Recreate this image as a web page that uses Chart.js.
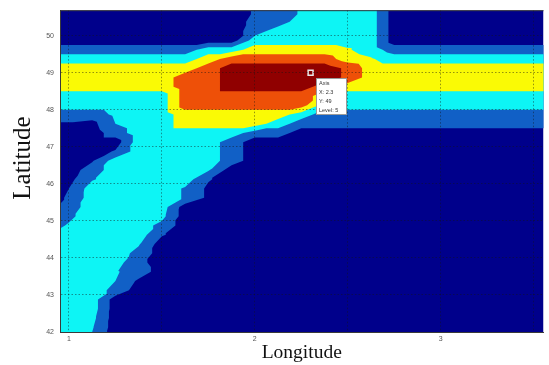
<!DOCTYPE html>
<html>
<head>
<meta charset="utf-8">
<script src="https://cdn.jsdelivr.net/npm/chart.js@4/dist/chart.umd.min.js"></script>
<style>
  html, body { margin: 0; padding: 0; background: #fff; overflow: hidden; }
  canvas { display: block; }
</style>
</head>
<body>
<canvas id="chart" width="549" height="365"></canvas>
<script>
// Longitude / latitude of the gridded field
const lonGrid = [0.875, 1.0, 1.125, 1.25, 1.375, 1.5, 1.625, 1.75, 1.875, 2.0, 2.125, 2.25,
                 2.375, 2.5, 2.625, 2.75, 2.875, 3.0, 3.125, 3.25, 3.375, 3.5, 3.625];
const latGrid = [50.875, 50.625, 50.375, 50.125, 49.875, 49.625, 49.375, 49.125, 48.875, 48.625,
                 48.375, 48.125, 47.875, 47.625, 47.375, 47.125, 46.875, 46.625, 46.375, 46.125,
                 45.875, 45.625, 45.375, 45.125, 44.875, 44.625, 44.375, 44.125, 43.875, 43.625,
                 43.375, 43.125, 42.875, 42.625, 42.375, 42.125, 41.875];

// Field values, one row per latitude (north to south), one column per longitude
const zRows = [
  [0,0,0,0,0,0,0,0,0,0.6,1,1.6,2,2,2,0,0,0,0,0,0,0,0],
  [0,0,0,0,0,0,0,0,0,0.6,1,1.6,2,2,2,0,0,0,0,0,0,0,0],
  [0,0,0,0,0,0,0,0,0,0.8,1,2,2,2,2,0,0,0,0,0,0,0,0],
  [0,0,0,0,0,0,0,0,0,1,2,2,2,2,2,0,0,0,0,0,0,0,0],
  [0,0,0,0,0,0,0,0,0,2,2,2,2,2,2,0,0,0,0,0,0,0,0],
  [1,1,1,1,1,1,1,2,2,3,3,3,3,2.6,2,1,1,1,1,1,1,1,1],
  [2,2,2,2,2,2,2,3,4,4,4,4,4,3,2.6,2,2,2,2,2,2,2,2],
  [3,3,3,3,3,3,3,4,5,5,5,5,5,4.3,3,3,3,3,3,3,3,3,3],
  [3,3,3,3,3,3,4,4,5,5,5,5,5,4.3,3,3,3,3,3,3,3,3,3],
  [3,3,3,3,3,3,4,4,5,5,5,5,4,3,3,3,3,3,3,3,3,3,3],
  [2,2,2,2,2,2,4,4,4,4,4,4,3,2,2,2,2,2,2,2,2,2,2],
  [2,2,2,2,2,2,4,4,4,4,4,4,2,2,2,2,2,2,2,2,2,2,2],
  [1,1,1,1.7,2,2,3,3,3,3,3,2,1,1,1,1,1,1,1,1,1,1,1],
  [0.4,0.4,0.2,1.5,2,2,3,3,3,3,2,1,1,1,1,1,1,1,1,1,1,1,1],
  [0,0,0,1,2,2,2,2,2,1,1,0,0,0,0,0,0,0,0,0,0,0,0],
  [0,0,0,0,2,2,2,2,1,0,0,0,0,0,0,0,0,0,0,0,0,0,0],
  [0,0,0,0.6,2,2,2,2,1,0,0,0,0,0,0,0,0,0,0,0,0,0,0],
  [0,0,0.4,2,2,2,2,2,1,0,0,0,0,0,0,0,0,0,0,0,0,0,0],
  [0,0,1,2,2,2,2,1.6,0,0,0,0,0,0,0,0,0,0,0,0,0,0,0],
  [0,0.2,1.4,2,2,2,2,0.6,0,0,0,0,0,0,0,0,0,0,0,0,0,0,0],
  [0,0.5,2,2,2,2,1.4,0.3,0,0,0,0,0,0,0,0,0,0,0,0,0,0,0],
  [0,0.63,2,2,2,2,1.4,0.3,0,0,0,0,0,0,0,0,0,0,0,0,0,0,0],
  [0,1,2,2,2,2,0,0,0,0,0,0,0,0,0,0,0,0,0,0,0,0,0],
  [0.6,1.3,2,2,2,1.8,0,0,0,0,0,0,0,0,0,0,0,0,0,0,0,0,0],
  [1,1.6,2,2,2,1.2,0,0,0,0,0,0,0,0,0,0,0,0,0,0,0,0,0],
  [1.4,2,2,2,2,0.6,0,0,0,0,0,0,0,0,0,0,0,0,0,0,0,0,0],
  [2,2,2,2,1.6,0,0,0,0,0,0,0,0,0,0,0,0,0,0,0,0,0,0],
  [2,2,2,2,1.2,0,0,0,0,0,0,0,0,0,0,0,0,0,0,0,0,0,0],
  [2,2,2,1.9,0.8,0,0,0,0,0,0,0,0,0,0,0,0,0,0,0,0,0,0],
  [2,2,2,1.6,1.06,0,0,0,0,0,0,0,0,0,0,0,0,0,0,0,0,0,0],
  [2,2,2,1.5,0.32,0,0,0,0,0,0,0,0,0,0,0,0,0,0,0,0,0,0],
  [2,2,2,1.2,0,0,0,0,0,0,0,0,0,0,0,0,0,0,0,0,0,0,0],
  [2,2,2,0,0,0,0,0,0,0,0,0,0,0,0,0,0,0,0,0,0,0,0],
  [2,2,2,0,0,0,0,0,0,0,0,0,0,0,0,0,0,0,0,0,0,0,0],
  [2,2,1.8,0,0,0,0,0,0,0,0,0,0,0,0,0,0,0,0,0,0,0,0],
  [2,2,1.6,0,0,0,0,0,0,0,0,0,0,0,0,0,0,0,0,0,0,0,0],
  [2,2,1.4,0,0,0,0,0,0,0,0,0,0,0,0,0,0,0,0,0,0,0,0]
];

// Contour levels and their fill colours (jet-like)
const levelThresholds = [0.5, 1.5, 2.5, 3.5, 4.5];
const levelColors = ['#00008B', '#1160C6', '#0DF5F5', '#FAFA05', '#EE5008', '#900000'];

// Axis ticks
const lonTicks = [1, 1.5, 2, 2.5, 3, 3.5];
const latTicks = [42, 43, 44, 45, 46, 47, 48, 49, 50];

// Axis titles
const xTitle = 'Longitude';
const yTitle = 'Latitude';

// Data tip location
const tipPoint = { x: 2.3, y: 49 };

// Clip a polygon (with per-vertex field value) to the half-space z >= t
function clipAbove(pts, t) {
  const out = [];
  for (let i = 0; i < pts.length; i++) {
    const a = pts[i], b = pts[(i + 1) % pts.length];
    const ain = a.z >= t, bin = b.z >= t;
    if (ain) out.push(a);
    if (ain !== bin) {
      const f = (t - a.z) / (b.z - a.z);
      out.push({ px: a.px + f * (b.px - a.px), py: a.py + f * (b.py - a.py), z: t });
    }
  }
  return out;
}

// Contour level at a lon/lat, using the same triangles as the fill
function levelAt(lon, lat) {
  let c = 0, r = 0;
  while (c < lonGrid.length - 2 && lonGrid[c + 1] <= lon) c++;
  while (r < latGrid.length - 2 && latGrid[r + 1] >= lat) r++;
  const fx = (lon - lonGrid[c]) / (lonGrid[c + 1] - lonGrid[c]);
  const fy = (latGrid[r] - lat) / (latGrid[r] - latGrid[r + 1]);
  const z00 = zRows[r][c], z10 = zRows[r][c + 1], z01 = zRows[r + 1][c], z11 = zRows[r + 1][c + 1];
  let z;
  if (fx + fy <= 1) z = z00 + fx * (z10 - z00) + fy * (z01 - z00);
  else z = z11 + (1 - fx) * (z01 - z11) + (1 - fy) * (z10 - z11);
  return levelThresholds.filter(t => z >= t).length;
}

const contourFill = {
  id: 'contourFill',
  beforeDatasetsDraw(chart) {
    const { ctx, chartArea: a, scales: { x, y } } = chart;
    ctx.save();
    ctx.beginPath();
    ctx.rect(a.left, a.top, a.right - a.left, a.bottom - a.top);
    ctx.clip();
    ctx.fillStyle = levelColors[0];
    ctx.fillRect(a.left, a.top, a.right - a.left, a.bottom - a.top);

    const P = (i, j) => ({ px: x.getPixelForValue(lonGrid[j]), py: y.getPixelForValue(latGrid[i]), z: zRows[i][j] });
    levelThresholds.forEach((t, k) => {
      ctx.beginPath();
      for (let i = 0; i < latGrid.length - 1; i++) {
        for (let j = 0; j < lonGrid.length - 1; j++) {
          const p00 = P(i, j), p10 = P(i, j + 1), p01 = P(i + 1, j), p11 = P(i + 1, j + 1);
          [[p00, p10, p01], [p10, p11, p01]].forEach(tri => {
            const poly = clipAbove(tri, t);
            if (poly.length < 3) return;
            ctx.moveTo(poly[0].px, poly[0].py);
            for (let n = 1; n < poly.length; n++) ctx.lineTo(poly[n].px, poly[n].py);
            ctx.closePath();
          });
        }
      }
      ctx.fillStyle = levelColors[k + 1];
      ctx.fill('nonzero');
    });
    ctx.restore();
  },
  afterDraw(chart) {
    const { ctx, chartArea: a, scales: { x, y } } = chart;
    ctx.save();
    // frame top edge
    ctx.strokeStyle = '#3a3a3a';
    ctx.lineWidth = 1;
    ctx.beginPath();
    ctx.moveTo(a.left, a.top + 0.5);
    ctx.lineTo(a.right, a.top + 0.5);
    ctx.stroke();

    // latitude axis title
    ctx.save();
    ctx.translate(23, 158);
    ctx.rotate(-Math.PI / 2);
    ctx.fillStyle = '#111';
    ctx.font = '25px "Liberation Serif", serif';
    ctx.textAlign = 'center';
    ctx.textBaseline = 'middle';
    ctx.fillText(yTitle, 0, 0);
    ctx.restore();

    // data tip box
    const mx = x.getPixelForValue(tipPoint.x), my = y.getPixelForValue(tipPoint.y);
    const bx = Math.round(mx + 5), by = Math.round(my + 5), bw = 31, bh = 37;
    ctx.fillStyle = '#ffffff';
    ctx.fillRect(bx, by, bw, bh);
    ctx.strokeStyle = '#9a9a9a';
    ctx.strokeRect(bx + 0.5, by + 0.5, bw - 1, bh - 1);
    const lines = ['Axis', 'X: ' + tipPoint.x, 'Y: ' + tipPoint.y, 'Level: ' + levelAt(tipPoint.x, tipPoint.y)];
    ctx.fillStyle = '#333';
    ctx.font = '5.5px "Liberation Sans", sans-serif';
    ctx.textBaseline = 'middle';
    lines.forEach((s, n) => ctx.fillText(s, bx + 3, by + 5 + n * 9));
    ctx.restore();
  }
};

const tickFont = { family: '"Liberation Sans", sans-serif', size: 7 };

new Chart(document.getElementById('chart').getContext('2d'), {
  type: 'scatter',
  data: {
    datasets: [{
      label: 'data tip',
      data: [tipPoint],
      pointStyle: 'rect',
      pointRadius: 3.5,
      borderWidth: 1.5,
      borderColor: '#e8e8e8',
      backgroundColor: 'rgba(0,0,0,0)'
    }]
  },
  options: {
    responsive: false,
    animation: false,
    devicePixelRatio: 1,
    layout: { padding: { top: 8, right: 0, left: 0, bottom: 0 } },
    plugins: { legend: { display: false }, tooltip: { enabled: false } },
    scales: {
      x: {
        type: 'linear',
        min: 0.952,
        max: 3.553,
        afterBuildTicks: s => { s.ticks = lonTicks.map(v => ({ value: v })); },
        afterFit: s => { s.height = 33; },
        ticks: {
          font: tickFont, color: '#555', padding: 3, maxRotation: 0,
          callback: v => (Number.isInteger(v) ? String(v) : '')
        },
        grid: { color: 'rgba(20,20,20,0.45)', lineWidth: 1, drawTicks: false, z: 1 },
        border: { display: true, color: '#3a3a3a', width: 1, dash: [1.5, 2], z: 2 },
        title: {
          display: true, text: xTitle, color: '#111',
          font: { family: '"Liberation Serif", serif', size: 19.5 },
          padding: { top: 0, bottom: 0 }
        }
      },
      y: {
        type: 'linear',
        min: 42,
        max: 50.69,
        afterBuildTicks: s => { s.ticks = latTicks.map(v => ({ value: v })); },
        afterFit: s => { s.width = 60; },
        ticks: { font: tickFont, color: '#555', padding: 6 },
        grid: { color: 'rgba(20,20,20,0.45)', lineWidth: 1, drawTicks: false, z: 1 },
        border: { display: true, color: '#3a3a3a', width: 1, dash: [1.5, 2], z: 2 }
      }
    }
  },
  plugins: [contourFill]
});
</script>
</body>
</html>
